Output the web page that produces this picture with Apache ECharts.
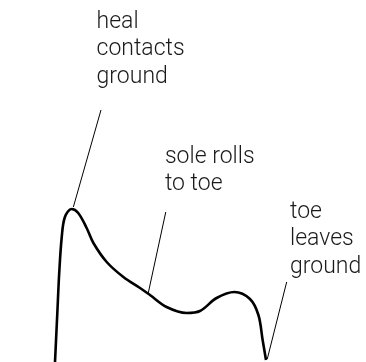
<!DOCTYPE html>
<html>
<head>
<meta charset="utf-8">
<script src="https://cdn.jsdelivr.net/npm/echarts@6/dist/echarts.min.js"></script>
<style>
  html, body { margin: 0; padding: 0; background: #fff; }
  #chart { width: 366px; height: 362px; }
</style>
</head>
<body>
<div id="chart"></div>
<script>
// Vertical ground reaction force over one foot contact (stance phase)
// time: % of stance, force: multiples of body weight
const stanceTime = [0, 1.1, 2.0, 3.2, 4.7, 7.9, 11.0, 15.0, 18.2, 24.5, 32.4, 40.3, 45.0,
                    52.9, 62.4, 68.7, 76.6, 85.0, 92.4, 96.4, 98.4, 100];
const force      = [0, 0.49, 0.89, 1.25, 1.45, 1.53, 1.49, 1.34, 1.19, 1.00, 0.85, 0.74, 0.67,
                    0.55, 0.49, 0.51, 0.64, 0.70, 0.63, 0.47, 0.22, 0.02];

// Callouts: point on the curve, end of the leader line, top-left of the note (all in data units)
const notes = [
  { text: 'heal\ncontacts\nground', at: [8.7, 1.55],   tail: [21.8, 2.52], label: [19.7, 3.54] },
  { text: 'sole rolls\nto toe',     at: [44.2, 0.69],  tail: [52.5, 1.50], label: [52.1, 2.19] },
  { text: 'toe\nleaves\nground',    at: [100.6, 0.03], tail: [109.8, 0.80], label: [111.4, 1.64] }
];

const chart = echarts.init(document.getElementById('chart'), null, { renderer: 'canvas' });

chart.setOption({
  animation: false,
  backgroundColor: '#ffffff',
  grid: { left: 55, right: 100, top: 162, bottom: 0 },
  xAxis: { type: 'value', min: 0, max: 100, show: false },
  yAxis: { type: 'value', min: 0, max: 2, show: false },
  series: [{
    type: 'line',
    data: stanceTime.map((t, i) => [t, force[i]]),
    smooth: 0.35,
    symbol: 'none',
    clip: false,
    lineStyle: { color: '#000', width: 2.6 }
  }]
});

const px = (p) => chart.convertToPixel({ gridIndex: 0 }, p);
const elements = [];
notes.forEach((n) => {
  const a = px(n.at), b = px(n.tail), l = px(n.label);
  elements.push({
    type: 'line',
    shape: { x1: a[0], y1: a[1], x2: b[0], y2: b[1] },
    style: { stroke: '#000', lineWidth: 1 }
  });
  elements.push({
    type: 'text',
    x: l[0], y: l[1],
    style: {
      text: n.text,
      fontFamily: 'Roboto',
      fontWeight: 300,
      fontSize: 23,
      lineHeight: 27.5,
      fill: '#1a1a1a',
      align: 'left',
      verticalAlign: 'top'
    }
  });
});
chart.setOption({ graphic: elements });
</script>
</body>
</html>
